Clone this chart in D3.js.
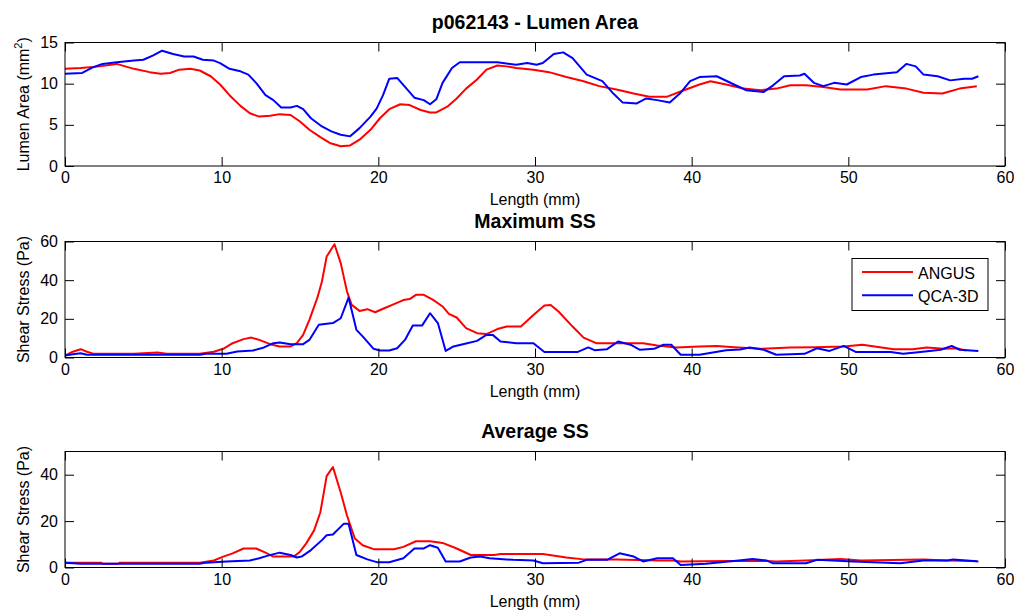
<!DOCTYPE html>
<html>
<head>
<meta charset="utf-8">
<script src="https://cdn.jsdelivr.net/npm/d3@7/dist/d3.min.js"></script>
<style>
  html, body { margin: 0; padding: 0; background: #fff; }
  svg { display: block; }
  text { font-family: Arial, "Liberation Sans", Helvetica, sans-serif; fill: #000; }
</style>
</head>
<body>
<svg id="chart" width="1014" height="612"></svg>
<script>
// ---------- DATA ----------
const xTickValues = [0, 10, 20, 30, 40, 50, 60];
const seriesNames = ["ANGUS", "QCA-3D"];

const areaAngus = [[0,11.8],[1,11.9],[2.2,12.1],[3.3,12.4],[4.4,11.8],[5.4,11.4],[6.1,11.2],[6.7,11.3],[7.3,11.7],[8.0,11.8],[8.6,11.6],[9.3,10.9],[9.9,9.9],[10.5,8.6],[11.2,7.3],[11.8,6.4],[12.4,6.0],[13.1,6.1],[13.7,6.3],[14.4,6.2],[15.0,5.4],[15.6,4.4],[16.3,3.5],[16.9,2.8],[17.6,2.4],[18.2,2.5],[18.8,3.2],[19.5,4.4],[20.1,5.8],[20.7,6.9],[21.4,7.5],[22.0,7.4],[22.7,6.8],[23.3,6.5],[23.7,6.5],[24.4,7.2],[25.0,8.2],[25.6,9.4],[26.3,10.5],[26.9,11.7],[27.6,12.2],[28.2,12.1],[28.8,11.9],[29.9,11.7],[30.9,11.4],[32.0,10.8],[33.1,10.3],[34.1,9.7],[35.2,9.3],[36.3,8.8],[37.3,8.4],[38.4,8.4],[39.5,9.2],[40.5,9.9],[41.2,10.3],[42.2,9.9],[43.3,9.4],[44.4,9.2],[45.4,9.4],[46.3,9.8],[47.3,9.8],[48.4,9.6],[49.5,9.3],[51.2,9.3],[52.4,9.7],[53.7,9.4],[54.8,8.9],[56.0,8.8],[57.1,9.4],[58.2,9.7]];
const areaQca = [[0,11.2],[1.1,11.3],[1.8,12.0],[2.4,12.4],[3.3,12.6],[4.4,12.8],[5.0,12.9],[5.6,13.4],[6.2,14.0],[6.9,13.6],[7.6,13.3],[8.2,13.3],[8.8,12.9],[9.5,12.8],[9.9,12.5],[10.5,11.8],[11.2,11.5],[11.7,11.1],[12.2,10.1],[12.8,8.6],[13.3,8.0],[13.8,7.1],[14.4,7.1],[14.8,7.3],[15.2,6.9],[15.7,5.8],[16.4,4.8],[17.0,4.2],[17.6,3.8],[18.2,3.6],[18.8,4.6],[19.5,6.0],[19.9,7.0],[20.3,8.6],[20.7,10.6],[21.2,10.7],[21.8,9.4],[22.3,8.3],[22.9,8.0],[23.3,7.5],[23.7,8.1],[24.1,10.1],[24.7,11.9],[25.2,12.6],[26.3,12.6],[27.6,12.6],[28.8,12.3],[29.5,12.5],[30.1,12.3],[30.5,12.5],[31.2,13.6],[31.8,13.8],[32.4,13.1],[33.3,11.1],[34.3,10.3],[35.0,8.8],[35.6,7.7],[36.5,7.6],[37.1,8.2],[37.8,8.0],[38.6,7.7],[39.3,8.9],[39.9,10.3],[40.5,10.8],[41.6,10.9],[42.7,9.9],[43.5,9.2],[44.6,9.0],[45.2,9.8],[45.9,10.9],[46.9,11.0],[47.2,11.2],[47.8,10.1],[48.4,9.7],[49.1,10.1],[49.9,9.9],[50.8,10.8],[51.6,11.1],[53.1,11.4],[53.7,12.4],[54.3,12.1],[54.8,11.1],[55.7,10.9],[56.5,10.4],[57.4,10.6],[57.9,10.6],[58.3,10.9]];

const maxAngus = [[0,1],[0.5,3],[1.0,4.3],[1.4,3],[1.8,2],[4.4,2],[5.9,2.6],[6.5,2],[8.6,2],[9.5,3],[10.1,4.5],[10.7,7.4],[11.4,9.5],[11.9,10.3],[12.4,9.1],[13.1,6.9],[13.7,5.7],[14.4,5.7],[14.8,7.4],[15.2,11.7],[15.6,19.5],[16.1,30.7],[16.4,39.3],[16.7,52.2],[17.2,58.6],[17.6,48.8],[18.0,34.1],[18.3,27.2],[18.8,24.1],[19.3,25],[19.8,23.4],[20.3,25.2],[21.0,27.6],[21.6,29.7],[22.0,30.2],[22.4,32.4],[22.9,32.4],[23.5,29.8],[24.1,26.4],[24.5,22.6],[25.0,20.7],[25.6,15.2],[26.3,12.6],[26.9,12.1],[27.6,14.7],[28.2,16],[29.1,16],[29.9,22],[30.6,26.9],[31.0,27.2],[31.5,23.8],[32.4,16],[33.1,10.3],[33.9,7.4],[35.0,7.4],[36.9,7.4],[37.8,6.2],[39.0,5.2],[40.5,5.7],[41.6,6],[42.7,5.3],[44.4,4.5],[46.3,5.2],[47.9,5.3],[49.7,5.7],[50.9,6.6],[52.9,4.3],[54.1,4.3],[55.0,5.2],[56.1,4.5],[56.9,4.8],[57.5,3.6]];
const maxQca = [[0,1],[0.5,1.7],[1.0,2.2],[1.4,1.4],[4.4,1.4],[8.6,1.4],[9.0,1.9],[10.3,1.9],[11.0,3.1],[12.0,3.6],[12.7,5.2],[13.3,7.4],[13.7,7.8],[14.4,6.9],[15.2,6.9],[15.6,9.1],[16.2,16.9],[17.1,17.8],[17.6,20.3],[18.1,31],[18.6,14.3],[19.0,10.9],[19.7,4.5],[20.1,3.6],[20.7,3.6],[21.2,4.8],[21.7,9.1],[22.2,16.6],[22.8,16.6],[23.3,22.9],[23.8,17.8],[24.3,3.4],[24.8,5.7],[25.6,7.2],[26.3,8.6],[26.9,11.7],[27.3,11.7],[27.8,8.3],[28.8,7.4],[29.9,7.4],[30.6,2.8],[32.7,2.8],[33.4,5.2],[33.8,3.8],[34.6,4.3],[35.3,8.3],[36.1,6.6],[36.7,4],[37.6,4.5],[38.2,6.6],[38.7,6.6],[39.3,1.4],[40.5,1.4],[42.2,3.8],[43.1,4.1],[43.7,5.2],[44.6,4],[45.4,1.4],[47.2,1.9],[48.0,4.8],[48.8,3.4],[49.7,6],[50.5,2.8],[52.7,2.8],[53.5,1.9],[54.6,2.8],[55.9,4],[56.6,6],[57.1,4],[58.3,3.4]];

const avgAngus = [[0,2.1],[2.3,2.1],[2.4,1.6],[3.4,1.6],[3.5,2.1],[8.6,2.1],[9.5,3],[10.1,4.7],[10.7,6.1],[11.4,8.2],[12.2,8.2],[12.8,6.4],[13.3,4.7],[14.6,4.7],[15.0,6.8],[15.4,10.4],[15.9,16],[16.3,23.8],[16.7,39.4],[17.1,43.3],[17.6,32.3],[18.0,22.4],[18.5,12.5],[19.0,9.6],[19.7,7.9],[21.0,7.9],[21.6,8.9],[22.4,11.3],[23.3,11.3],[24.1,10.6],[25.0,8.2],[25.9,5.4],[27.4,5.4],[27.8,5.8],[30.5,5.8],[32.0,4.3],[33.1,3.5],[35.2,3.5],[37.9,3],[38.8,3],[39.3,2.6],[42.2,2.8],[44.8,2.8],[45.4,2.6],[47.3,3],[49.5,3.7],[50.8,3],[54.8,3.5],[56.3,3],[58.2,2.8]];
const avgQca = [[0,2.1],[1.0,1.6],[8.6,1.6],[9.0,2.1],[10.3,2.6],[11.8,3],[12.4,4],[12.9,5],[13.7,6.4],[14.4,5.4],[14.8,4.3],[15.1,4.7],[15.7,7.5],[16.4,11.8],[16.7,13.9],[17.1,14.2],[17.8,18.9],[18.1,18.9],[18.6,5.4],[19.3,3.5],[19.9,2.3],[20.7,2.3],[21.6,4],[22.3,8.2],[22.9,8.2],[23.3,9.6],[23.8,8.5],[24.3,2.6],[25.2,2.6],[25.9,4.3],[26.5,4.7],[27.1,4],[28.6,3.3],[29.9,3],[30.5,1.8],[32.8,2.1],[33.3,3.3],[34.6,3.3],[35.4,6.1],[36.3,4.7],[36.9,2.6],[37.8,4],[38.8,4],[39.3,1.1],[40.9,1.6],[42.7,2.8],[43.9,3.7],[44.8,3],[45.2,1.8],[47.3,1.8],[48.0,3.3],[49.0,3],[50.3,2.6],[53.3,1.8],[54.8,3],[56.3,3],[56.7,3.5],[58.3,2.6]];

const areaYTicks = [0, 5, 10, 15];
const maxYTicks = [0, 20, 40, 60];
const avgYTicks = [0, 20, 40];

// ---------- LAYOUT ----------
const svg = d3.select("#chart");
const colors = ["#ff0000", "#0000ff"];
const left = 65, right = 1005;
const x = d3.scaleLinear().domain([0, 60]).range([left, right]);
const FONT = 'Arial, "Liberation Sans", Helvetica, sans-serif';

const panels = [
  { top: 42.5, bottom: 166, yDomain: [0, 15], yTicks: areaYTicks, title: "p062143 - Lumen Area",
    ylabel: "area", data: [areaAngus, areaQca], legend: false },
  { top: 241.5, bottom: 357.5, yDomain: [0, 60], yTicks: maxYTicks, title: "Maximum SS",
    ylabel: "Shear Stress (Pa)", data: [maxAngus, maxQca], legend: true },
  { top: 451.5, bottom: 567.5, yDomain: [0, 50], yTicks: avgYTicks, title: "Average SS",
    ylabel: "Shear Stress (Pa)", data: [avgAngus, avgQca], legend: false }
];

const tickLen = 9;

panels.forEach(p => {
  const y = d3.scaleLinear().domain(p.yDomain).range([p.bottom, p.top]);
  const g = svg.append("g");

  g.append("rect").attr("x", left).attr("y", p.top)
    .attr("width", right - left).attr("height", p.bottom - p.top)
    .attr("fill", "#fff");

  const line = d3.line().x(d => x(d[0])).y(d => y(d[1]));
  const clipId = "clip" + Math.round(p.top);
  g.append("clipPath").attr("id", clipId).append("rect")
    .attr("x", left).attr("y", p.top).attr("width", right - left).attr("height", p.bottom - p.top);
  p.data.forEach((s, i) => {
    g.append("path").datum(s).attr("d", line)
      .attr("fill", "none").attr("stroke", colors[i]).attr("stroke-width", 2)
      .attr("stroke-linejoin", "round")
      .attr("clip-path", `url(#${clipId})`);
  });

  const bottomAxis = d3.axisBottom(x).tickValues(xTickValues).tickSizeInner(-tickLen).tickSizeOuter(0).tickPadding(6);
  const topAxis = d3.axisTop(x).tickValues(xTickValues).tickSizeInner(-tickLen).tickSizeOuter(0).tickFormat("");
  const leftAxis = d3.axisLeft(y).tickValues(p.yTicks).tickSizeInner(-tickLen).tickSizeOuter(0).tickPadding(7);
  const rightAxis = d3.axisRight(y).tickValues(p.yTicks).tickSizeInner(-tickLen).tickSizeOuter(0).tickFormat("");

  const styleAxis = sel => {
    sel.select(".domain").remove();
    sel.selectAll("line").attr("stroke", "#000").attr("stroke-width", 1);
    sel.selectAll("text").attr("font-size", 16).attr("fill", "#000").attr("font-family", FONT);
  };
  g.append("g").attr("transform", `translate(0,${p.bottom})`).call(bottomAxis).call(styleAxis);
  g.append("g").attr("transform", `translate(0,${p.top})`).call(topAxis).call(styleAxis);
  g.append("g").attr("transform", `translate(${left},0)`).call(leftAxis).call(styleAxis);
  g.append("g").attr("transform", `translate(${right},0)`).call(rightAxis).call(styleAxis);

  g.append("rect").attr("x", left).attr("y", p.top)
    .attr("width", right - left).attr("height", p.bottom - p.top)
    .attr("fill", "none").attr("stroke", "#000").attr("stroke-width", 1);

  g.append("text").attr("x", (left + right) / 2).attr("y", p.top - 14)
    .attr("text-anchor", "middle").attr("font-size", 19.5).attr("font-weight", "bold")
    .text(p.title);

  g.append("text").attr("x", (left + right) / 2).attr("y", p.bottom + 39)
    .attr("text-anchor", "middle").attr("font-size", 16).text("Length (mm)");

  const yl = g.append("text")
    .attr("transform", `translate(29,${(p.top + p.bottom) / 2}) rotate(-90)`)
    .attr("text-anchor", "middle").attr("font-size", 16);
  if (p.ylabel === "area") {
    yl.append("tspan").text("Lumen Area (mm");
    yl.append("tspan").attr("font-size", 11).attr("dy", -7).text("2");
    yl.append("tspan").attr("dy", 7).text(")");
  } else {
    yl.text(p.ylabel);
  }

  if (p.legend) {
    const lx = 852, ly = 258.5, lw = 136, lh = 52;
    const lg = g.append("g");
    lg.append("rect").attr("x", lx).attr("y", ly).attr("width", lw).attr("height", lh)
      .attr("fill", "#fff").attr("stroke", "#000").attr("stroke-width", 1);
    seriesNames.forEach((n, i) => {
      const yy = ly + 13.5 + i * 23.3;
      lg.append("line").attr("x1", lx + 10).attr("x2", lx + 61).attr("y1", yy).attr("y2", yy)
        .attr("stroke", colors[i]).attr("stroke-width", 2);
      lg.append("text").attr("x", lx + 66).attr("y", yy + 7).attr("font-size", 16).text(n);
    });
  }
});
</script>
</body>
</html>
